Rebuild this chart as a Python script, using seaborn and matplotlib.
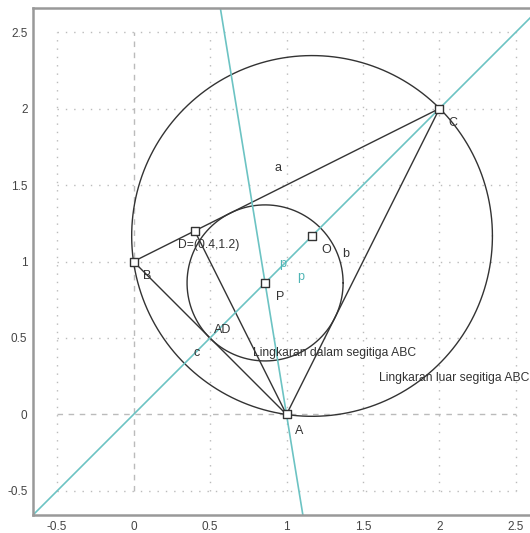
"""Triangle ABC with its incircle and circumcircle."""

import numpy as np
import matplotlib
matplotlib.use('Agg')
import matplotlib.pyplot as plt
import seaborn as sns

sns.set_style("white")
plt.rcParams['font.family'] = ['Liberation Sans', 'DejaVu Sans']

# points of the construction
point_names = ['A', 'B', 'C', 'D', 'P', 'O']
point_x = [1.0, 0.0, 2.0, 0.4, 0.86, 1.167]
point_y = [0.0, 1.0, 2.0, 1.2, 0.86, 1.167]

# segments drawn in black (pairs of point names)
segments = [('A', 'B'), ('B', 'C'), ('C', 'A'), ('A', 'D')]

# cyan lines (through two points)
cyan_lines = [((0.0, 0.0), (1.0, 1.0)), ((1.0, 0.0), (0.86, 0.86))]

# circles: centre x, centre y, radius
circle_cx = [1.167, 0.86]
circle_cy = [1.167, 0.86]
circle_r = [1.179, 0.51]

# text labels
label_text = ['A', 'B', 'C', 'a', 'b', 'c', 'O', 'P', 'AD']
label_x = [1.081, 0.092, 2.09, 0.943, 1.389, 0.413, 1.258, 0.956, 0.583]
label_y = [-0.105, 0.902, 1.908, 1.608, 1.052, 0.405, 1.072, 0.771, 0.549]
cyan_label_x = [0.974, 1.094]
cyan_label_y = [0.985, 0.897]
left_text = ['D=(0.4,1.2)', 'Lingkaran dalam segitiga ABC', 'Lingkaran luar segitiga ABC']
left_x = [0.288, 0.784, 1.605]
left_y = [1.105, 0.40, 0.237]

ticks = [-0.5, 0, 0.5, 1, 1.5, 2, 2.5]
lim = (-0.657, 2.657)

fig = plt.figure(figsize=(5.3, 5.33), dpi=100)
ax = fig.add_axes([33 / 530, 18 / 533, 507 / 530, 507 / 533])
ax.set_xlim(lim)
ax.set_ylim(lim)

# dotted grid only inside [-0.5, 2.5]
for t in ticks:
    ls = (0, (4, 4)) if t == 0 else (0, (1, 5))
    lw = 1.0 if t == 0 else 1.0
    ax.plot([t, t], [ticks[0], ticks[-1]], color='#bbbbbb', lw=lw, ls=ls, zorder=0)
    ax.plot([ticks[0], ticks[-1]], [t, t], color='#bbbbbb', lw=lw, ls=ls, zorder=0)

theta = np.linspace(0, 2 * np.pi, 400)
for cx, cy, r in zip(circle_cx, circle_cy, circle_r):
    ax.plot(cx + r * np.cos(theta), cy + r * np.sin(theta), color='#333333', lw=1.0)

pos = dict(zip(point_names, zip(point_x, point_y)))
for p1, p2 in segments:
    ax.plot([pos[p1][0], pos[p2][0]], [pos[p1][1], pos[p2][1]], color='#333333', lw=1.0)

for a, b in cyan_lines:
    ax.axline(a, b, color='#6cc3c3', lw=1.2)

sns.scatterplot(x=point_x, y=point_y, marker='s', s=40, facecolor='white',
                edgecolor='#333333', linewidth=1.0, ax=ax, zorder=5)

for t, x, y in zip(label_text, label_x, label_y):
    ax.text(x, y, t, ha='center', va='center', fontsize=9, color='#333333')
for x, y in zip(cyan_label_x, cyan_label_y):
    ax.text(x, y, 'p', ha='center', va='center', fontsize=9, color='#4fb5b5')
for t, x, y in zip(left_text, left_x, left_y):
    ax.text(x, y, t, ha='left', va='center', fontsize=8.7, color='#333333')

ax.set_xticks(ticks)
ax.set_yticks(ticks)
ax.set_xticklabels(['-0.5', '0', '0.5', '1', '1.5', '2', '2.5'])
ax.set_yticklabels(['-0.5', '0', '0.5', '1', '1.5', '2', '2.5'])
ax.tick_params(length=0, labelsize=8.5, labelcolor='#444444', pad=4)
for s in ax.spines.values():
    s.set_color('#999999')
    s.set_linewidth(1.8)

fig.savefig('out.png', dpi=100)
plt.close(fig)
